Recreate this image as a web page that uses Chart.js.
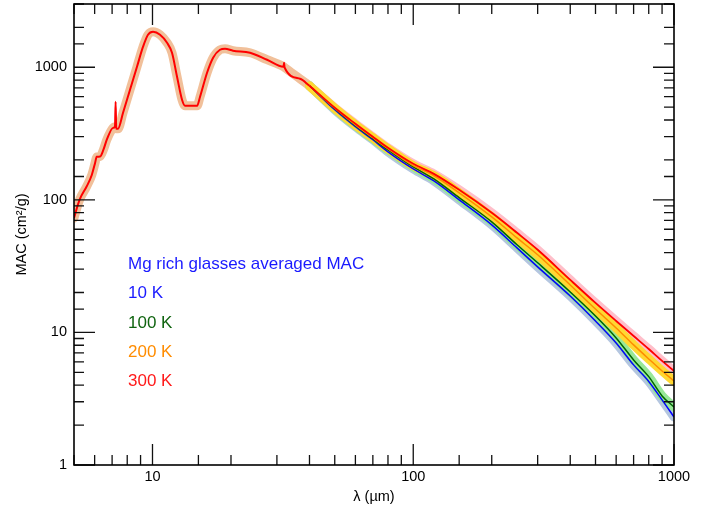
<!DOCTYPE html>
<html>
<head>
<meta charset="utf-8">
<script src="https://cdn.jsdelivr.net/npm/chart.js@4/dist/chart.umd.min.js"></script>
<style>
  body { margin: 0; background: #fff; }
</style>
</head>
<body>
<canvas id="mac" width="711" height="506"></canvas>
<script>
// below ~40 µm every temperature gives the same curve
const lamShared = [5.0, 5.25, 5.59, 5.85, 6.02, 6.11, 6.29, 6.48, 6.68, 7.06, 7.18, 7.22, 7.26, 7.37, 7.71, 8.2, 8.72, 9.2, 9.61, 10.05, 10.69, 11.37, 11.88, 12.42, 12.98, 13.33, 13.93, 14.82, 15.22, 16.19, 17.08, 18.15, 18.97, 20.36, 23.66, 27.5, 31.8, 31.96, 32.1, 36.8, 40];
const macShared = [73, 100, 126, 154, 189, 211, 212, 238, 284, 349, 356, 549, 345, 343, 454, 677, 1009, 1429, 1759, 1853, 1759, 1531, 1286, 848, 569, 512, 512, 512, 599, 909, 1180, 1355, 1380, 1333, 1286, 1140, 1010, 1080, 995, 819, 725];
const lamSpikes = [7.22, 31.96];

// long wavelength part, one array per temperature
const lam = [40, 50, 60, 70, 80, 100, 120, 150, 200, 250, 300, 400, 500, 600, 700, 800, 900, 1000];
const mac10K = [725, 478, 356, 284, 230, 171, 139, 100, 64.7, 43.4, 31.2, 18.8, 12.2, 8.33, 5.69, 4.27, 3.1, 2.3];
const mac100K = [725, 486, 362, 289, 238, 177, 144, 104, 68.2, 45.8, 33.5, 20.2, 13.3, 9.09, 6.2, 4.64, 3.32, 2.74];
const mac200K = [725, 491, 368, 294, 243, 181, 152, 113, 74.4, 51.6, 38.5, 22.8, 15.0, 10.8, 8.05, 6.31, 5.12, 4.3];
const mac300K = [725, 495, 375, 299, 247, 187, 157, 119, 79.8, 56.4, 42, 24.9, 16.7, 12.2, 9.4, 7.5, 6.1, 5.12];

const legendTitle = "Mg rich glasses averaged MAC";
const tempLabels = ["10 K", "100 K", "200 K", "300 K"];

const FONT = "'Liberation Sans', Arial, Helvetica, sans-serif";

function pts(xs, ys) {
  return xs.map((v, i) => ({ x: v, y: ys[i] }));
}

function isDecade(v) {
  const l = Math.log10(v);
  return Math.abs(l - Math.round(l)) < 1e-9;
}

function band(data, color, order) {
  return {
    data: data,
    borderColor: color,
    borderWidth: 9,
    borderJoinStyle: "round",
    borderCapStyle: "round",
    pointRadius: 0,
    cubicInterpolationMode: "monotone",
    clip: 0,
    order: order,
  };
}

function curve(data, color, width, order) {
  return {
    data: data,
    borderColor: color,
    borderWidth: width,
    pointRadius: 0,
    cubicInterpolationMode: "monotone",
    clip: 0,
    order: order,
  };
}

const shared = pts(lamShared, macShared);
const sharedBand = shared.filter((p) => !lamSpikes.includes(p.x));

// frame with inward ticks on all four sides
const frameTicks = {
  id: "frameTicks",
  afterDatasetsDraw(chart) {
    const { ctx, chartArea: a, scales } = chart;
    ctx.save();
    ctx.strokeStyle = "#111";
    ctx.lineWidth = 1.3;
    ctx.beginPath();
    scales.x.ticks.forEach((t) => {
      const px = scales.x.getPixelForValue(t.value);
      const len = isDecade(t.value) ? 21 : 10;
      ctx.moveTo(px, a.bottom);
      ctx.lineTo(px, a.bottom - len);
      ctx.moveTo(px, a.top);
      ctx.lineTo(px, a.top + len);
    });
    scales.y.ticks.forEach((t) => {
      const py = scales.y.getPixelForValue(t.value);
      const len = isDecade(t.value) ? 21 : 10;
      ctx.moveTo(a.left, py);
      ctx.lineTo(a.left + len, py);
      ctx.moveTo(a.right, py);
      ctx.lineTo(a.right - len, py);
    });
    ctx.stroke();
    ctx.strokeStyle = "#000";
    ctx.lineWidth = 1.6;
    ctx.strokeRect(a.left, a.top, a.right - a.left, a.bottom - a.top);
    ctx.restore();
  },
};

// coloured labels inside the plot
const labelBlock = {
  id: "labelBlock",
  afterDraw(chart) {
    const ctx = chart.ctx;
    const lines = [legendTitle].concat(tempLabels);
    const colors = ["#1a1aff", "#1a1aff", "#106410", "#ff8c00", "#ff1a1a"];
    ctx.save();
    ctx.font = "17px " + FONT;
    ctx.textBaseline = "alphabetic";
    lines.forEach((s, i) => {
      ctx.fillStyle = colors[i];
      ctx.fillText(s, 128, 269 + i * 29.3);
    });
    ctx.restore();
  },
};

new Chart(document.getElementById("mac"), {
  type: "line",
  data: {
    datasets: [
      band(sharedBand, "#f1c09a", 10),
      band(pts(lam, mac300K), "#ffbfca", 9),
      band(pts(lam, mac10K), "#b4c6e0", 8),
      band(pts(lam, mac100K), "#98e898", 7),
      band(pts(lam, mac200K), "#ffd832", 6),
      curve(pts(lam, mac10K), "#0000ff", 1.5, 4),
      curve(pts(lam, mac100K), "#006400", 1.5, 3),
      curve(pts(lam, mac200K), "#ff8c00", 1.5, 2),
      curve(pts(lam, mac300K), "#ff0000", 1.8, 1),
      curve(shared, "#ff0000", 2, 0),
    ],
  },
  options: {
    responsive: false,
    animation: false,
    layout: { padding: { top: 4, right: 37, left: 0, bottom: 0 } },
    plugins: {
      legend: { display: false },
      tooltip: { enabled: false },
    },
    scales: {
      x: {
        type: "logarithmic",
        min: 5,
        max: 1000,
        grid: { display: false, drawTicks: false },
        border: { display: false },
        ticks: {
          autoSkip: false,
          maxRotation: 0,
          padding: 3,
          color: "#000",
          font: { family: FONT, size: 14.5 },
          callback: (v) => (isDecade(v) ? String(v) : ""),
        },
        title: {
          display: true,
          text: "λ (µm)",
          color: "#000",
          padding: { top: 2, bottom: 0 },
          font: { family: FONT, size: 14.5 },
        },
        afterFit: (s) => {
          s.height = 41;
          s.paddingLeft = 0;
          s.paddingRight = 0;
        },
      },
      y: {
        type: "logarithmic",
        min: 1,
        max: 3000,
        grid: { display: false, drawTicks: false },
        border: { display: false },
        ticks: {
          autoSkip: false,
          padding: 7,
          color: "#000",
          font: { family: FONT, size: 14.5 },
          callback: (v) => (isDecade(v) ? String(v) : ""),
        },
        title: {
          display: true,
          text: "MAC (cm²/g)",
          color: "#000",
          padding: { top: 13, bottom: 0 },
          font: { family: FONT, size: 14.5 },
        },
        afterFit: (s) => {
          s.width = 74;
          s.paddingTop = 0;
          s.paddingBottom = 0;
        },
      },
    },
  },
  plugins: [frameTicks, labelBlock],
});
</script>
</body>
</html>
